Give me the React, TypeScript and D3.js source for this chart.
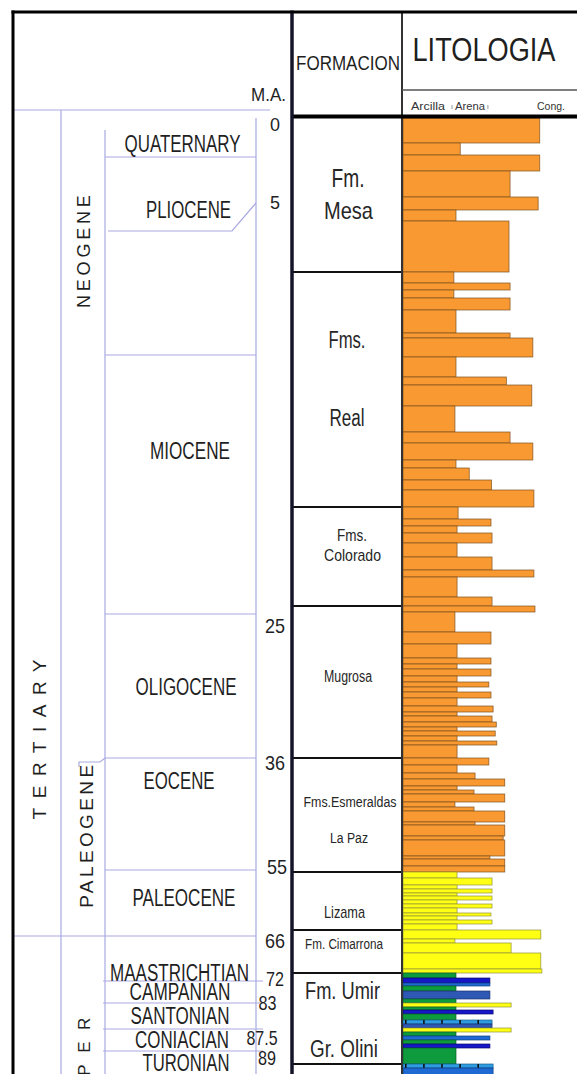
import React from "react";
import * as d3 from "d3";

// ---------- Chronostratigraphy (ages in Ma) ----------
const ERAS = [{ name: "TERTIARY", top: 0, base: 66 }];
const PERIODS = [
  { name: "NEOGENE", top: 0, base: 36 },
  { name: "PALEOGENE", top: 36, base: 66 },
  { name: "UPPER", top: 66, base: 100 },
];
const EPOCHS = [
  { name: "QUATERNARY", top: 0, base: 1.8 },
  { name: "PLIOCENE", top: 1.8, base: 5.3 },
  { name: "MIOCENE", top: 5.3, base: 25 },
  { name: "OLIGOCENE", top: 25, base: 36 },
  { name: "EOCENE", top: 36, base: 55 },
  { name: "PALEOCENE", top: 55, base: 66 },
];
const STAGES = [
  { name: "MAASTRICHTIAN", top: 66, base: 72 },
  { name: "CAMPANIAN", top: 72, base: 83 },
  { name: "SANTONIAN", top: 83, base: 87.5 },
  { name: "CONIACIAN", top: 87.5, base: 89 },
  { name: "TURONIAN", top: 89, base: 93 },
];
const MA_TICKS = [0, 5, 25, 36, 55, 66, 72, 83, 87.5, 89, 93];
const GRAIN_CLASSES = [
  { label: "Arcilla", grain: 1.0 },
  { label: "Arena", grain: 1.64 },
  { label: "Cong.", grain: 3.0 },
];

// ---------- Lithology: [thickness, grain-size class, lithology] top to base ----------
const MESA = [[25, 2.58, "c"], [12, 1.08, "c"], [16, 2.58, "c"], [26, 2.02, "c"], [13, 2.55, "c"], [11, 1.0, "c"], [51, 2.0, "c"]];
const REAL = [[11, 0.96, "c"], [7, 2.02, "c"], [8, 0.96, "c"], [12, 2.02, "c"], [23, 1.0, "c"], [5, 2.02, "c"], [19, 2.45, "c"], [20, 1.0, "c"], [8, 1.95, "c"], [21, 2.43, "c"], [26, 0.98, "c"], [11, 2.02, "c"], [17, 2.45, "c"], [8, 1.0, "c"], [12, 1.25, "c"], [10, 1.67, "c"], [17, 2.47, "c"]];
const COLORADO = [[12, 1.04, "c"], [7, 1.66, "c"], [7, 1.02, "c"], [10, 1.68, "c"], [14, 1.02, "c"], [13, 1.68, "c"], [7, 2.47, "c"], [20, 1.02, "c"], [9, 1.68, "c"]];
const MUGROSA = [[6, 2.49, "c"], [20, 0.98, "c"], [12, 1.66, "c"], [14, 1.02, "c"], [6, 1.66, "c"], [5, 1.02, "c"], [7, 1.66, "c"], [6, 1.02, "c"], [5, 1.62, "c"], [5, 1.02, "c"], [6, 1.66, "c"], [8, 1.02, "c"], [6, 1.7, "c"], [4, 1.02, "c"], [6, 1.68, "c"], [5, 1.76, "c"], [4, 1.02, "c"], [5, 1.74, "c"], [5, 1.02, "c"], [4, 1.77, "c"], [13, 1.02, "c"]];
const ESMERALDAS = [[7, 1.62, "c"], [8, 1.02, "c"], [6, 1.36, "c"], [7, 1.92, "c"], [4, 1.02, "c"], [4, 1.34, "c"], [8, 1.92, "c"], [5, 0.98, "c"], [4, 1.34, "c"], [11, 1.92, "c"], [3, 1.36, "c"], [11, 1.92, "c"], [4, 1.89, "c"], [16, 1.92, "c"], [3, 1.64, "c"], [7, 1.92, "c"], [6, 1.92, "c"]];
const LIZAMA = [[6, 1.02, "y"], [7, 1.68, "y"], [4, 1.02, "y"], [4, 1.68, "y"], [3, 1.02, "y"], [4, 1.68, "y"], [4, 1.02, "y"], [4, 1.68, "y"], [5, 1.02, "y"], [3, 1.66, "y"], [4, 1.02, "y"], [4, 1.68, "y"], [6, 1.02, "y"]];
const CIMARRONA = [[9, 2.6, "y"], [4, 0.98, "y"], [10, 2.04, "y"], [16, 2.6, "y"], [4, 2.62, "y"]];
const UMIR_OLINI = [[5, 1.0, "g"], [5, 1.64, "db"], [3, 1.64, "b"], [5, 1.0, "g"], [8, 1.64, "mb"], [4, 1.0, "g"], [4, 2.04, "y"], [3, 1.0, "g"], [4, 1.7, "db"], [6, 1.0, "g"], [4, 1.68, "lb"], [4, 1.68, "mb"], [4, 2.04, "y"], [4, 1.0, "g"], [4, 1.64, "b"], [4, 1.0, "g"], [4, 1.64, "db"], [16, 1.0, "g"]];
const BELOW = [[4, 1.7, "lb"], [14, 1.7, "b"]];

const FORMATIONS = [
  { lines: ["Fm.", "Mesa"], layers: MESA },
  { lines: ["Fms.", "Real"], layers: REAL },
  { lines: ["Fms.", "Colorado"], layers: COLORADO },
  { lines: ["Mugrosa"], layers: MUGROSA },
  { lines: ["Fms.Esmeraldas", "La Paz"], layers: ESMERALDAS },
  { lines: ["Lizama"], layers: LIZAMA },
  { lines: ["Fm. Cimarrona"], layers: CIMARRONA },
  { lines: ["Fm. Umir", "Gr. Olini"], layers: UMIR_OLINI },
  { lines: [], layers: BELOW },
];

// ---------- Layout ----------
const AGE_KNOTS = [0, 1.8, 5, 5.3, 25, 36, 55, 66, 72, 83, 87.5, 89, 93];
const AGE_KNOT_Y = [117, 157, 231, 355, 614, 758, 870, 936, 981, 1003, 1029, 1051, 1076];

const COL = { left: 13, era: 61, period: 105, epoch: 256, ma: 292, fm: 402, right: 577 };

const LITH_STYLE: Record<string, { fill: string; stroke: string }> = {
  c: { fill: "#F89A31", stroke: "#7d4f1e" },
  y: { fill: "#FFFF14", stroke: "#8f8f3a" },
  g: { fill: "#0E9B3E", stroke: "#0b5e25" },
  db: { fill: "#1616C8", stroke: "#0a0a70" },
  b: { fill: "#1E6AD2", stroke: "#103c80" },
  mb: { fill: "#2F58B4", stroke: "#1a3070" },
  lb: { fill: "#2E9CE0", stroke: "#1a6090" },
};

const EPOCH_LABEL: Record<string, { f: number; x: number; w: number }> = {
  QUATERNARY: { f: 0.68, x: 182.5, w: 116 },
  PLIOCENE: { f: 0.27, x: 188.5, w: 85 },
  MIOCENE: { f: 0.37, x: 190, w: 80 },
  OLIGOCENE: { f: 0.51, x: 186, w: 101 },
  EOCENE: { f: 0.205, x: 179, w: 71 },
  PALEOCENE: { f: 0.42, x: 184, w: 103 },
  MAASTRICHTIAN: { f: 0.82, x: 179.5, w: 139 },
  CAMPANIAN: { f: 0.5, x: 180, w: 101 },
  SANTONIAN: { f: 0.5, x: 180, w: 99 },
  CONIACIAN: { f: 0.5, x: 182, w: 94 },
  TURONIAN: { f: 0.47, x: 186, w: 87 },
};

const PERIOD_LABEL: Record<string, { f: number; x: number; w: number; size: number }> = {
  TERTIARY: { f: 0.76, x: 39, w: 160, size: 19 },
  NEOGENE: { f: 0.21, x: 83.5, w: 113, size: 18 },
  PALEOGENE: { f: 0.44, x: 86, w: 143, size: 19 },
  UPPER: { f: 0.73, x: 84, w: 105, size: 17 },
};

const TICK_LABEL: Record<string, { dx: number; dy: number; size: number; w: number }> = {
  "0": { dx: 275, dy: 8, size: 18, w: 10 },
  "5": { dx: 275, dy: -28, size: 18, w: 10 },
  "25": { dx: 275, dy: 11, size: 21, w: 20 },
  "36": { dx: 275, dy: 4, size: 21, w: 20 },
  "55": { dx: 277, dy: -4, size: 21, w: 20 },
  "66": { dx: 275, dy: 4, size: 21, w: 20 },
  "72": { dx: 275, dy: -3, size: 21, w: 18 },
  "83": { dx: 267.5, dy: -1, size: 21, w: 18 },
  "87.5": { dx: 262, dy: 8, size: 21, w: 31 },
  "89": { dx: 267, dy: 6, size: 21, w: 18 },
  "93": { dx: 270, dy: 4, size: 21, w: 18 },
};

const FM_LABEL = [
  [{ f: 0.387, x: 348, size: 25, w: 33 }, { f: 0.6, x: 348.5, size: 24, w: 49 }],
  [{ f: 0.29, x: 347, size: 23, w: 37 }, { f: 0.62, x: 347, size: 23, w: 35 }],
  [{ f: 0.29, x: 352, size: 17, w: 30 }, { f: 0.485, x: 352.5, size: 17, w: 57 }],
  [{ f: 0.467, x: 348, size: 16, w: 48 }],
  [{ f: 0.386, x: 350, size: 14, w: 93 }, { f: 0.7, x: 349, size: 14, w: 38 }],
  [{ f: 0.69, x: 344.5, size: 17, w: 41 }],
  [{ f: 0.33, x: 344, size: 14, w: 78 }],
  [{ f: 0.2, x: 342.5, size: 23, w: 75 }, { f: 0.835, x: 344, size: 23, w: 68 }],
  [],
];

const FONT = "'Liberation Sans', Arial, Helvetica, sans-serif";
const INK = "#1f1f1f";
const GRID = "#a9a9e2";

function Label({ x, y, size, w, text, rotate = false, adjust = "spacingAndGlyphs", fill = INK }: any) {
  return (
    <text
      transform={rotate ? `translate(${x},${y}) rotate(-90)` : undefined}
      x={rotate ? 0 : x}
      y={rotate ? 0 : y}
      fontFamily={FONT}
      fontSize={size}
      fill={fill}
      textAnchor="middle"
      dominantBaseline="central"
      textLength={w}
      lengthAdjust={adjust}
    >
      {text}
    </text>
  );
}

export default function App() {
  const W = 577;
  const H = 1074;
  const yAge = d3.scaleLinear().domain(AGE_KNOTS).range(AGE_KNOT_Y);
  const xGrain = d3.scaleLinear().domain([0, 3]).range([403, 562]);

  // stack the lithology layers down the column
  let cum = 0;
  const fms = FORMATIONS.map((f) => {
    const top = cum;
    const layers = f.layers.map(([t, g, l]: any) => {
      const r = { top: cum, base: cum + t, grain: g, lith: l };
      cum += t;
      return r;
    });
    return { ...f, top, base: cum, layers };
  });
  const yThk = d3.scaleLinear().domain([0, cum]).range([118, 118 + cum]);

  const boxY = (top: number, base: number, f: number) => yAge(top) + f * (yAge(base) - yAge(top));

  return (
    <svg
      width={W}
      height={H}
      viewBox={`0 0 ${W} ${H}`}
      style={{ position: "absolute", left: 0, top: 0, background: "#fff" }}
    >
      <rect x={0} y={0} width={W} height={H} fill="#fff" />

      {/* ---- chronostratigraphic grid ---- */}
      <g stroke={GRID} strokeWidth={1.2} fill="none">
        <line x1={COL.left} x2={270} y1={110} y2={110} />
        <line x1={COL.era} x2={COL.era} y1={110} y2={H} />
        <line x1={COL.period} x2={COL.period} y1={130} y2={H} />
        <line x1={COL.epoch} x2={COL.epoch} y1={118} y2={H} />
        {EPOCHS.slice(1).map((e) =>
          e.name === "EOCENE" ? (
            <path key={e.name} d={`M79,${yAge(e.top) + 9} V${yAge(e.top) + 4} H100 L${COL.period},${yAge(e.top)} H${COL.epoch}`} />
          ) : (
            <line key={e.name} x1={COL.period} x2={COL.epoch} y1={yAge(e.top)} y2={yAge(e.top)} />
          )
        )}
        {/* 5 Ma marker with leader to its tick label */}
        <path d={`M108,${yAge(5)} H232 L${COL.epoch},${yAge(5) + TICK_LABEL["5"].dy}`} />
        {/* era boundary */}
        <line x1={COL.left} x2={COL.epoch} y1={yAge(66)} y2={yAge(66)} />
        {STAGES.slice(1).map((s) => (
          <line key={s.name} x1={103} x2={263} y1={yAge(s.top)} y2={yAge(s.top)} />
        ))}
      </g>

      {/* epoch & stage names */}
      {[...EPOCHS, ...STAGES].map((e) => {
        const L = EPOCH_LABEL[e.name];
        return <Label key={e.name} x={L.x} y={boxY(e.top, e.base, L.f)} size={23} w={L.w} text={e.name} />;
      })}

      {/* era / period names, rotated */}
      {[...ERAS, ...PERIODS].map((p) => {
        const L = PERIOD_LABEL[p.name];
        return (
          <Label key={p.name} x={L.x} y={boxY(p.top, p.base, L.f)} size={L.size} w={L.w} text={p.name} rotate adjust="spacing" />
        );
      })}

      {/* Ma ticks */}
      {MA_TICKS.map((a) => {
        const k = String(a);
        const L = TICK_LABEL[k];
        return <Label key={k} x={L.dx} y={yAge(a) + L.dy} size={L.size} w={L.w} text={k} />;
      })}

      {/* ---- lithology bars ---- */}
      {fms.map((f, i) =>
        f.layers.map((l, j) => {
          const s = LITH_STYLE[l.lith];
          const y0 = yThk(l.top);
          const y1 = yThk(l.base);
          const x1 = xGrain(l.grain);
          return (
            <g key={`${i}-${j}`}>
              <rect x={xGrain(0)} y={y0} width={x1 - xGrain(0)} height={y1 - y0} fill={s.fill} stroke={s.stroke} strokeWidth={0.8} strokeOpacity={0.85} />
              {l.lith === "lb" && (
                <line x1={xGrain(0) + 2} x2={x1} y1={(y0 + y1) / 2} y2={(y0 + y1) / 2} stroke="#111" strokeWidth={y1 - y0} strokeDasharray="1.6 16.5" />
              )}
            </g>
          );
        })
      )}

      {/* ---- formation boxes ---- */}
      {fms.slice(1).map((f, i) => (
        <line key={i} x1={COL.ma} x2={COL.fm} y1={yThk(f.top)} y2={yThk(f.top)} stroke="#111" strokeWidth={1.8} />
      ))}
      {fms.map((f, i) =>
        f.lines.map((t, j) => {
          const L = FM_LABEL[i][j];
          const y = yThk(f.top) + L.f * (yThk(f.base) - yThk(f.top));
          return <Label key={`${i}-${j}`} x={L.x} y={y} size={L.size} w={L.w} text={t} fill="#262626" />;
        })
      )}

      {/* ---- frame & header ---- */}
      <line x1={COL.fm} x2={COL.fm} y1={12} y2={H} stroke="#333" strokeWidth={2} />
      <line x1={COL.fm} x2={W} y1={90} y2={90} stroke="#555" strokeWidth={1.5} />
      <line x1={COL.ma} x2={W} y1={116.5} y2={116.5} stroke="#000" strokeWidth={4} />
      <line x1={COL.ma} x2={COL.ma} y1={10.5} y2={H} stroke="#15152a" strokeWidth={3.5} />
      <line x1={COL.left} x2={COL.left} y1={10.5} y2={H} stroke="#000" strokeWidth={3} />
      <line x1={COL.left - 1.5} x2={W} y1={12} y2={12} stroke="#000" strokeWidth={3} />

      <Label x={484} y={49} size={33} w={143} text="LITOLOGIA" />
      <Label x={348} y={63} size={20} w={104} text="FORMACION" />
      <Label x={268.5} y={95} size={18} w={35} text="M.A." />
      {GRAIN_CLASSES.map((g, i) => (
        <g key={g.label}>
          <Label
            x={i === 0 ? 428 : i === 1 ? 470 : 551}
            y={106}
            size={11}
            w={i === 0 ? 34 : i === 1 ? 30 : 28}
            text={g.label}
            fill="#333"
          />
          {i < 2 && (
            <line x1={xGrain(g.grain) - 4 + i * 2} x2={xGrain(g.grain) - 4 + i * 2} y1={105} y2={109} stroke="#999" strokeWidth={1} />
          )}
        </g>
      ))}
    </svg>
  );
}
